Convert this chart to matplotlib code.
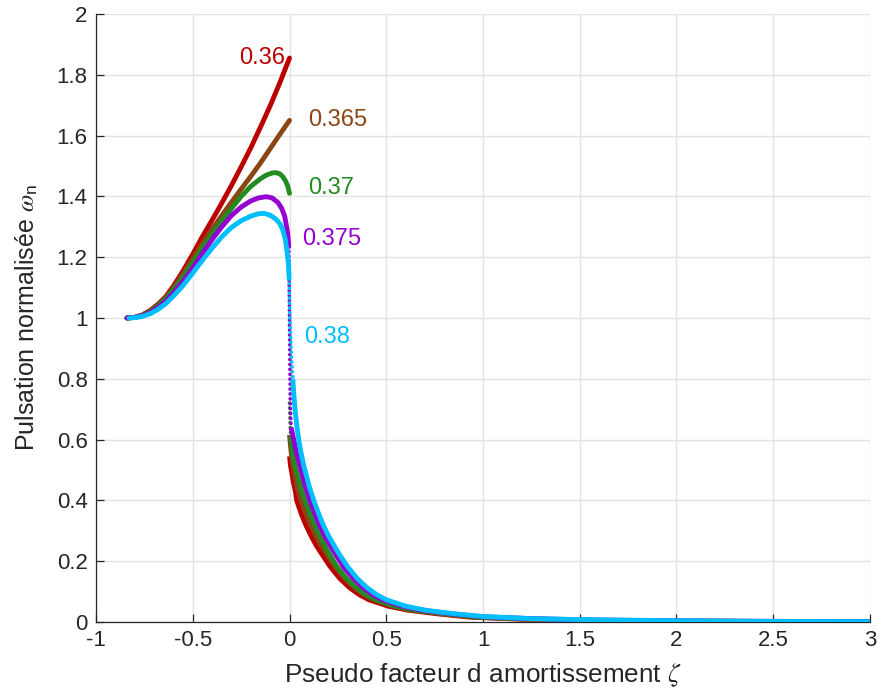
import matplotlib
matplotlib.use("Agg")
import matplotlib.pyplot as plt
from matplotlib.ticker import FuncFormatter

plt.rcParams['font.family'] = ['Liberation Sans', 'DejaVu Sans']
plt.rcParams['mathtext.fontset'] = 'stix'

# ---- data ----
labels = ['0.36', '0.365', '0.37', '0.375', '0.38']
colors = ['#BB0000', '#8B4513', '#228B22', '#9400D3', '#00BFFF']

up_grid = [-0.84, -0.8, -0.76, -0.72, -0.68, -0.64, -0.6, -0.55, -0.5, -0.45, -0.4, -0.35, -0.3]

red_up_x = up_grid + [-0.25, -0.2, -0.15, -0.1, -0.05, 0.0]
red_up_y = [1.0, 1.002, 1.01, 1.025, 1.045, 1.07, 1.105, 1.155, 1.21, 1.268, 1.322, 1.378, 1.436,
            1.497, 1.56, 1.628, 1.698, 1.774, 1.855]
red_dot_x = []
red_dot_y = []
red_lo_x = [0.0, 0.005, 0.012, 0.02, 0.03, 0.037, 0.06, 0.085, 0.11, 0.135, 0.16, 0.21, 0.26, 0.31,
            0.36, 0.41, 0.51, 0.61, 0.76, 0.93, 1.2, 1.5, 2.0, 2.5, 3.0]
red_lo_y = [0.545, 0.515, 0.49, 0.46, 0.43, 0.40, 0.357, 0.318, 0.285, 0.255, 0.23, 0.182, 0.143, 0.113,
            0.09, 0.073, 0.052, 0.039, 0.027, 0.016, 0.009, 0.005, 0.0025, 0.0012, 0.0006]

brown_up_x = up_grid + [-0.25, -0.2, -0.15, -0.1, -0.05, 0.0]
brown_up_y = [1.0, 1.002, 1.009, 1.023, 1.042, 1.066, 1.098, 1.145, 1.195, 1.245, 1.292, 1.337, 1.381,
              1.424, 1.466, 1.51, 1.557, 1.604, 1.65]
brown_dot_x = []
brown_dot_y = []
brown_lo_x = [0.0, 0.005, 0.01, 0.02, 0.03, 0.04, 0.06, 0.085, 0.11, 0.135, 0.16, 0.185, 0.235, 0.285,
              0.335, 0.385, 0.435, 0.535, 0.635, 0.785, 0.95, 1.2, 1.5, 2.0, 2.5, 3.0]
brown_lo_y = [0.615, 0.58, 0.55, 0.51, 0.475, 0.44, 0.40, 0.357, 0.318, 0.285, 0.255, 0.23, 0.182, 0.143,
              0.113, 0.09, 0.073, 0.052, 0.039, 0.027, 0.016, 0.01, 0.006, 0.003, 0.0015, 0.0008]

green_up_x = up_grid + [-0.25, -0.2, -0.15, -0.12, -0.09, -0.07, -0.05, -0.035, -0.02, -0.01, 0.0]
green_up_y = [1.0, 1.002, 1.008, 1.021, 1.04, 1.063, 1.092, 1.135, 1.183, 1.23, 1.277, 1.32, 1.36,
              1.40, 1.433, 1.458, 1.47, 1.477, 1.478, 1.474, 1.465, 1.45, 1.435, 1.41]
green_dot_x = [0.0, 0.003, 0.006]
green_dot_y = [0.72, 0.66, 0.61]
green_lo_x = [0.006, 0.01, 0.015, 0.022, 0.03, 0.045, 0.06, 0.08, 0.105, 0.13, 0.155, 0.2, 0.245, 0.295,
              0.345, 0.395, 0.445, 0.545, 0.645, 0.8, 1.0, 1.25, 1.5, 2.0, 2.5, 3.0]
green_lo_y = [0.61, 0.585, 0.56, 0.535, 0.51, 0.475, 0.44, 0.40, 0.357, 0.318, 0.285, 0.23, 0.182, 0.143,
              0.113, 0.09, 0.073, 0.052, 0.039, 0.027, 0.015, 0.01, 0.006, 0.003, 0.0015, 0.0008]

purple_up_x = up_grid + [-0.25, -0.2, -0.16, -0.12, -0.09, -0.06, -0.04, -0.025, -0.015, -0.008, -0.004]
purple_up_y = [1.0, 1.002, 1.007, 1.018, 1.034, 1.055, 1.082, 1.12, 1.165, 1.212, 1.258, 1.30, 1.337,
               1.365, 1.385, 1.395, 1.399, 1.395, 1.38, 1.36, 1.335, 1.30, 1.27, 1.235]
purple_dot_x = [-0.004, -0.002, 0.0, 0.002, 0.004, 0.008]
purple_dot_y = [1.235, 1.15, 1.0, 0.85, 0.72, 0.64]
purple_lo_x = [0.008, 0.015, 0.025, 0.035, 0.045, 0.055, 0.07, 0.08, 0.105, 0.13, 0.155, 0.18, 0.23, 0.28,
               0.33, 0.38, 0.43, 0.48, 0.58, 0.68, 0.83, 1.0, 1.25, 1.5, 2.0, 2.5, 3.0]
purple_lo_y = [0.64, 0.62, 0.59, 0.56, 0.535, 0.51, 0.475, 0.45, 0.40, 0.357, 0.318, 0.285, 0.23, 0.18,
               0.143, 0.113, 0.09, 0.073, 0.052, 0.039, 0.027, 0.017, 0.011, 0.007, 0.0035, 0.002, 0.001]

cyan_up_x = [-0.83, -0.8, -0.76, -0.72, -0.68, -0.64, -0.6, -0.55, -0.5, -0.45, -0.4, -0.35, -0.3,
             -0.25, -0.2, -0.16, -0.13, -0.1, -0.07, -0.05, -0.035, -0.022, -0.013, -0.006, -0.002]
cyan_up_y = [1.0, 1.001, 1.005, 1.014, 1.028, 1.047, 1.072, 1.107, 1.148, 1.19, 1.23, 1.267, 1.298,
             1.32, 1.335, 1.343, 1.344, 1.338, 1.325, 1.31, 1.29, 1.26, 1.22, 1.18, 1.13]
cyan_dot_x = [-0.002, 0.0, 0.005, 0.01, 0.017]
cyan_dot_y = [1.13, 1.05, 0.95, 0.87, 0.80]
cyan_lo_x = [0.017, 0.022, 0.03, 0.04, 0.05, 0.06, 0.075, 0.09, 0.1, 0.125, 0.15, 0.175, 0.2, 0.25, 0.3,
             0.35, 0.4, 0.45, 0.5, 0.6, 0.7, 0.85, 1.0, 1.25, 1.5, 2.0, 2.5, 3.0]
cyan_lo_y = [0.80, 0.75, 0.69, 0.635, 0.59, 0.555, 0.51, 0.475, 0.45, 0.40, 0.357, 0.318, 0.285, 0.23, 0.182,
             0.143, 0.113, 0.09, 0.073, 0.052, 0.039, 0.027, 0.018, 0.011, 0.008, 0.004, 0.002, 0.001]

label_x = [-0.14, 0.248, 0.214, 0.22, 0.196]
label_y = [1.855, 1.651, 1.426, 1.26, 0.936]

x_ticks = [-1, -0.5, 0, 0.5, 1, 1.5, 2, 2.5, 3]
y_ticks = [0, 0.2, 0.4, 0.6, 0.8, 1, 1.2, 1.4, 1.6, 1.8, 2]

series = [
    (red_up_x, red_up_y, red_dot_x, red_dot_y, red_lo_x, red_lo_y),
    (brown_up_x, brown_up_y, brown_dot_x, brown_dot_y, brown_lo_x, brown_lo_y),
    (green_up_x, green_up_y, green_dot_x, green_dot_y, green_lo_x, green_lo_y),
    (purple_up_x, purple_up_y, purple_dot_x, purple_dot_y, purple_lo_x, purple_lo_y),
    (cyan_up_x, cyan_up_y, cyan_dot_x, cyan_dot_y, cyan_lo_x, cyan_lo_y),
]

# ---- figure ----
fig = plt.figure(figsize=(8.77, 6.99), dpi=100)
ax = fig.add_axes([0.1095, 0.1102, 0.8825, 0.8698])

for (ux, uy, dx, dy, lx, ly), c in zip(series, colors):
    ax.plot(ux, uy, color=c, lw=3.5, solid_capstyle='round', solid_joinstyle='round', zorder=3)
    if dx:
        ax.plot(dx, dy, color=c, lw=2.7, linestyle=(0, (0.01, 1.3)),
                dash_capstyle='round', zorder=3)
    ax.plot(lx, ly, color=c, lw=3.5, solid_capstyle='butt', solid_joinstyle='round', zorder=3)

for lab, lx_, ly_, c in zip(labels, label_x, label_y, colors):
    ax.text(lx_, ly_, lab, color=c, fontsize=17, ha='center', va='center', zorder=4)

ax.set_xlim(-1, 3)
ax.set_ylim(0, 2)
ax.set_xticks(x_ticks)
ax.set_yticks(y_ticks)
fmt = FuncFormatter(lambda v, p: '%g' % v)
ax.xaxis.set_major_formatter(fmt)
ax.yaxis.set_major_formatter(fmt)
ax.grid(True, color='#e3e3e3', lw=1.0, zorder=0)
ax.set_axisbelow(True)
for s in ['top', 'right']:
    ax.spines[s].set_visible(False)
for s in ['left', 'bottom']:
    ax.spines[s].set_color('#262626')
    ax.spines[s].set_linewidth(0.9)
ax.tick_params(direction='in', length=6, width=0.9, color='#262626',
               labelsize=16, labelcolor='#262626', pad=6)

ax.set_xlabel(r'Pseudo facteur d amortissement $\zeta$', fontsize=18.8, color='#262626', labelpad=7)
ax.set_ylabel(r'Pulsation normalisée $\omega_\mathregular{n}$', fontsize=18, color='#262626', labelpad=12)

fig.savefig('out.png', dpi=100)
